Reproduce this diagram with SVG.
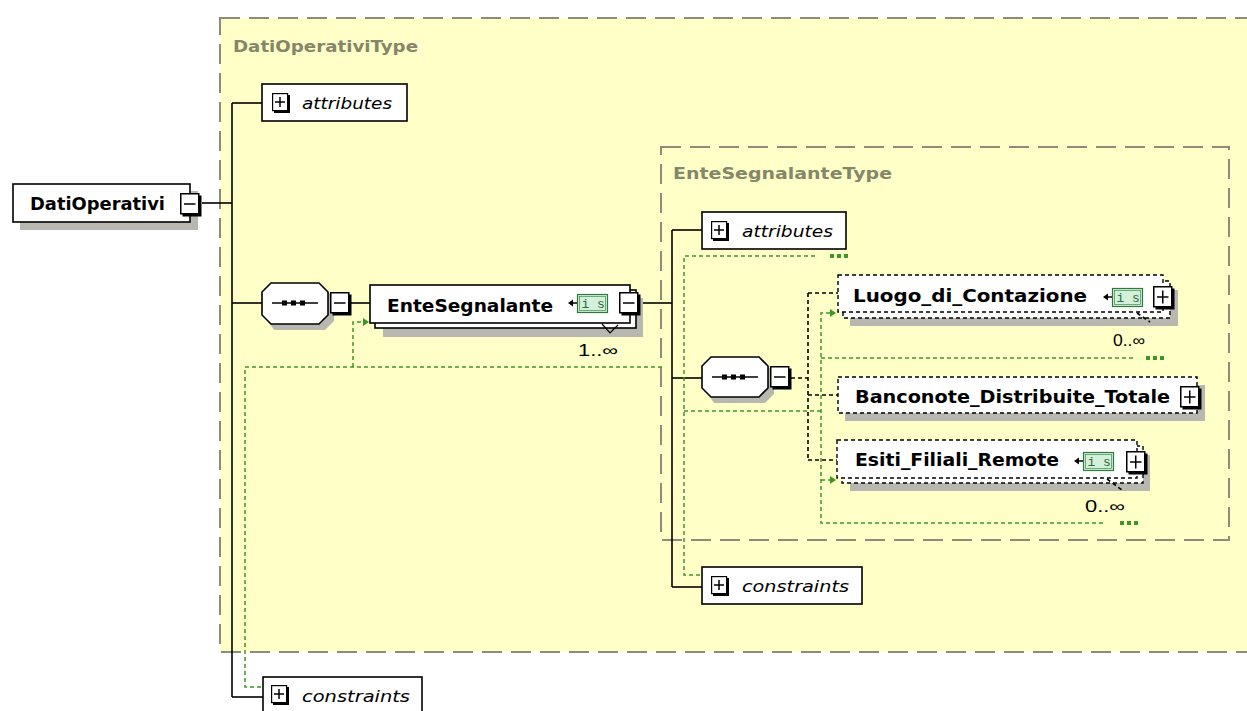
<svg xmlns="http://www.w3.org/2000/svg" xmlns:xlink="http://www.w3.org/1999/xlink" width="1247" height="711" viewBox="0 0 1247 711">
  <style>
    .typebox { fill: #ffffc8; stroke: #8c8c78; stroke-width: 2; stroke-dasharray: 20 9; }
    .typelabel { font-family: "DejaVu Sans", "Liberation Sans", sans-serif; font-weight: bold; font-size: 15px; fill: #86866a; }
    .elem { fill: #ffffff; stroke: #000000; stroke-width: 1.6; }
    .opt { fill: #ffffff; stroke: #000000; stroke-width: 1.4; stroke-dasharray: 4 3; }
    .shadow { fill: #b8b8b0; }
    .name { font-family: "DejaVu Sans", "Liberation Sans", sans-serif; font-weight: bold; font-size: 17px; fill: #000000; }
    .ital { font-family: "DejaVu Sans", "Liberation Sans", sans-serif; font-style: italic; font-size: 15px; fill: #000000; }
    .occ { font-family: "Liberation Sans", "DejaVu Sans", sans-serif; font-size: 16px; fill: #000000; }
    .conn { fill: none; stroke: #000000; stroke-width: 1.6; }
    .dconn { fill: none; stroke: #000000; stroke-width: 1.6; stroke-dasharray: 4 3; }
    .loop { fill: none; stroke: #3c9628; stroke-width: 1.5; stroke-dasharray: 4 3; }
    .loopdot { fill: #3c9628; }
    .isbox { fill: #d2f0da; stroke: #2e7a3c; stroke-width: 1.2; }
    .istext { font-family: "Liberation Mono", "DejaVu Sans Mono", monospace; font-size: 13px; fill: #2e6a3a; }
  </style>
  <defs>
    <!-- expander boxes with a raised bottom/right edge -->
    <g id="minus">
      <rect x="2.5" y="2.5" width="19" height="21" fill="#000"/>
      <rect x="0.75" y="0.75" width="18" height="20" fill="#fff" stroke="#000" stroke-width="1.5"/>
      <line x1="4" y1="11" x2="15.5" y2="11" stroke="#000" stroke-width="1.5"/>
    </g>
    <g id="plus">
      <rect x="2.5" y="2.5" width="19" height="21" fill="#000"/>
      <rect x="0.75" y="0.75" width="18" height="20" fill="#fff" stroke="#000" stroke-width="1.5"/>
      <line x1="4" y1="11" x2="15.5" y2="11" stroke="#000" stroke-width="1.5"/>
      <line x1="9.75" y1="4.5" x2="9.75" y2="17.5" stroke="#000" stroke-width="1.5"/>
    </g>
    <g id="plusSmall">
      <rect x="2" y="2" width="16" height="18" fill="#000"/>
      <rect x="0.6" y="0.6" width="15" height="17" fill="#fff" stroke="#000" stroke-width="1.2"/>
      <line x1="3" y1="9" x2="13" y2="9" stroke="#000" stroke-width="1.5"/>
      <line x1="8" y1="4" x2="8" y2="14" stroke="#000" stroke-width="1.5"/>
    </g>
    <!-- simple-type marker -->
    <g id="istype">
      <polygon points="0,9 5,5.5 5,12.5" fill="#000"/>
      <line x1="3" y1="9" x2="9" y2="9" stroke="#000" stroke-width="1.5"/>
      <rect x="9.5" y="0.5" width="30" height="18" class="isbox"/>
      <rect x="11.5" y="2.5" width="26" height="14" fill="none" stroke="#2e7a3c" stroke-width="0.6"/>
      <text x="13.5" y="14" class="istext">i s</text>
    </g>
    <g id="seqInner">
      <line x1="10" y1="0" x2="56" y2="0" stroke="#000" stroke-width="1.6"/>
      <rect x="20" y="-2.5" width="5" height="5" fill="#000"/>
      <rect x="29" y="-2.5" width="5" height="5" fill="#000"/>
      <rect x="38" y="-2.5" width="5" height="5" fill="#000"/>
    </g>
  </defs>

  <rect x="0" y="0" width="1247" height="711" fill="#ffffff"/>

  <!-- complex type containers -->
  <g id="DatiOperativiType">
    <rect x="220" y="18" width="1100" height="634" class="typebox"/>
    <text x="233" y="52" class="typelabel" textLength="185" lengthAdjust="spacingAndGlyphs">DatiOperativiType</text>
  </g>
  <g id="EnteSegnalanteType">
    <rect x="661" y="147" width="568" height="393" class="typebox"/>
    <text x="673" y="179" class="typelabel" textLength="219" lengthAdjust="spacingAndGlyphs">EnteSegnalanteType</text>
  </g>

  <!-- connectors -->
  <g id="connectors">
    <!-- model group links -->
    <line x1="202" y1="203" x2="232" y2="203" class="conn"/>
    <line x1="232" y1="103" x2="232" y2="697" class="conn"/>
    <line x1="232" y1="103" x2="262" y2="103" class="conn"/>
    <line x1="232" y1="303" x2="262" y2="303" class="conn"/>
    <line x1="351" y1="303" x2="370" y2="303" class="conn"/>
    <line x1="232" y1="697" x2="263" y2="697" class="conn"/>
    <line x1="640" y1="303" x2="672" y2="303" class="conn"/>
    <line x1="672" y1="230" x2="672" y2="587" class="conn"/>
    <line x1="672" y1="230" x2="702" y2="230" class="conn"/>
    <line x1="672" y1="378" x2="702" y2="378" class="conn"/>
    <line x1="672" y1="587" x2="702" y2="587" class="conn"/>
    <!-- optional children -->
    <line x1="791" y1="378" x2="808" y2="378" class="dconn"/>
    <line x1="808" y1="293" x2="808" y2="460" class="dconn"/>
    <line x1="808" y1="293" x2="838" y2="293" class="dconn"/>
    <line x1="808" y1="395" x2="838" y2="395" class="dconn"/>
    <line x1="808" y1="460" x2="837" y2="460" class="dconn"/>
    <!-- repetition loops -->
    <polyline points="662,367 245,367 245,687 262,687" class="loop"/>
    <polyline points="353,367 353,322 363,322" class="loop"/>
    <polygon points="363,318 369,322 363,326" class="loopdot"/>
    <polyline points="815,256 684,256 684,575 700,575" class="loop"/>
    <rect x="830" y="254" width="4" height="4" class="loopdot"/>
    <rect x="837" y="254" width="4" height="4" class="loopdot"/>
    <rect x="844" y="254" width="4" height="4" class="loopdot"/>
    <line x1="684" y1="411" x2="821" y2="411" class="loop"/>
    <polyline points="830,313 821,313 821,523 1105,523" class="loop"/>
    <polygon points="830,309 836,313 830,317" class="loopdot"/>
    <line x1="821" y1="358" x2="1133" y2="358" class="loop"/>
    <polyline points="821,480 830,480" class="loop"/>
    <polygon points="830,476 836,480 830,484" class="loopdot"/>
    <rect x="1146" y="356" width="4" height="4" class="loopdot"/>
    <rect x="1153" y="356" width="4" height="4" class="loopdot"/>
    <rect x="1160" y="356" width="4" height="4" class="loopdot"/>
    <rect x="1120" y="521" width="4" height="4" class="loopdot"/>
    <rect x="1127" y="521" width="4" height="4" class="loopdot"/>
    <rect x="1134" y="521" width="4" height="4" class="loopdot"/>
  </g>

  <!-- root element -->
  <g id="DatiOperativi">
    <rect x="20" y="191" width="178" height="39" class="shadow"/>
    <rect x="13" y="184" width="177" height="38" class="elem"/>
    <text x="30" y="210" class="name" textLength="135" lengthAdjust="spacingAndGlyphs">DatiOperativi</text>
    <use xlink:href="#minus" x="180" y="193"/>
  </g>

  <g id="attributes-outer">
    <rect x="262" y="84" width="145" height="37" class="elem"/>
    <use xlink:href="#plusSmall" x="272" y="93"/>
    <text x="302" y="109" class="ital" textLength="90" lengthAdjust="spacingAndGlyphs">attributes</text>
  </g>

  <g id="sequence-outer">
    <path d="M274,289 H325 L334,298 V321 L325,330 H274 L268,321 V298 Z" class="shadow"/>
    <path d="M271,283 H319 L328,292 V315 L319,324 H271 L262,315 V292 Z" class="elem"/>
    <use xlink:href="#seqInner" x="262" y="303"/>
    <use xlink:href="#minus" x="330" y="292"/>
  </g>

  <g id="EnteSegnalante">
    <rect x="383" y="298" width="260" height="39" class="shadow"/>
    <rect x="375" y="290" width="261" height="38" class="elem"/>
    <rect x="370" y="285" width="260" height="38" class="elem"/>
    <text x="387" y="312" class="name" textLength="166" lengthAdjust="spacingAndGlyphs">EnteSegnalante</text>
    <use xlink:href="#istype" x="568" y="294"/>
    <use xlink:href="#minus" x="619" y="292"/>
    <polyline points="602,324 610,333 618,325" fill="none" stroke="#000" stroke-width="1.2"/>
    <text x="578" y="356" class="occ" textLength="40" lengthAdjust="spacingAndGlyphs">1..∞</text>
  </g>

  <g id="attributes-inner">
    <rect x="702" y="212" width="144" height="37" class="elem"/>
    <use xlink:href="#plusSmall" x="711" y="221"/>
    <text x="742" y="237" class="ital" textLength="91" lengthAdjust="spacingAndGlyphs">attributes</text>
  </g>

  <g id="sequence-inner">
    <path d="M714,363 H765 L774,372 V394 L765,403 H714 L708,394 V372 Z" class="shadow"/>
    <path d="M711,357 H759 L768,366 V388 L759,397 H711 L702,388 V366 Z" class="elem"/>
    <use xlink:href="#seqInner" x="702" y="377"/>
    <use xlink:href="#minus" x="770" y="366"/>
  </g>

  <g id="Luogo_di_Contazione">
    <rect x="850" y="290" width="328" height="36" class="shadow"/>
    <rect x="843" y="281" width="327" height="37" class="opt"/>
    <rect x="838" y="275" width="325" height="37" class="opt"/>
    <text x="853" y="302" class="name" textLength="234" lengthAdjust="spacingAndGlyphs">Luogo_di_Contazione</text>
    <use xlink:href="#istype" x="1103" y="288"/>
    <use xlink:href="#plus" x="1153" y="286"/>
    <line x1="1137" y1="313" x2="1150" y2="322" class="dconn" stroke-width="1.1"/>
    <text x="1113" y="346" class="occ" textLength="32" lengthAdjust="spacingAndGlyphs">0..∞</text>
  </g>

  <g id="Banconote_Distribuite_Totale">
    <rect x="845" y="385" width="360" height="36" class="shadow"/>
    <rect x="838" y="377" width="359" height="36" class="opt"/>
    <text x="855" y="403" class="name" textLength="315" lengthAdjust="spacingAndGlyphs">Banconote_Distribuite_Totale</text>
    <use xlink:href="#plus" x="1180" y="386"/>
  </g>

  <g id="Esiti_Filiali_Remote">
    <rect x="850" y="455" width="300" height="36" class="shadow"/>
    <rect x="842" y="446" width="301" height="37" class="opt"/>
    <rect x="837" y="440" width="300" height="38" class="opt"/>
    <text x="855" y="466" class="name" textLength="204" lengthAdjust="spacingAndGlyphs">Esiti_Filiali_Remote</text>
    <use xlink:href="#istype" x="1074" y="452"/>
    <use xlink:href="#plus" x="1126" y="451"/>
    <line x1="1107" y1="479" x2="1122" y2="490" class="dconn" stroke-width="1.1"/>
    <text x="1085" y="512" class="occ" textLength="40" lengthAdjust="spacingAndGlyphs">0..∞</text>
  </g>

  <g id="constraints-inner">
    <rect x="702" y="567" width="160" height="37" class="elem"/>
    <use xlink:href="#plusSmall" x="711" y="576"/>
    <text x="742" y="592" class="ital" textLength="107" lengthAdjust="spacingAndGlyphs">constraints</text>
  </g>

  <g id="constraints-outer">
    <rect x="263" y="677" width="159" height="40" class="elem"/>
    <use xlink:href="#plusSmall" x="271" y="685"/>
    <text x="302" y="702" class="ital" textLength="108" lengthAdjust="spacingAndGlyphs">constraints</text>
  </g>
</svg>
